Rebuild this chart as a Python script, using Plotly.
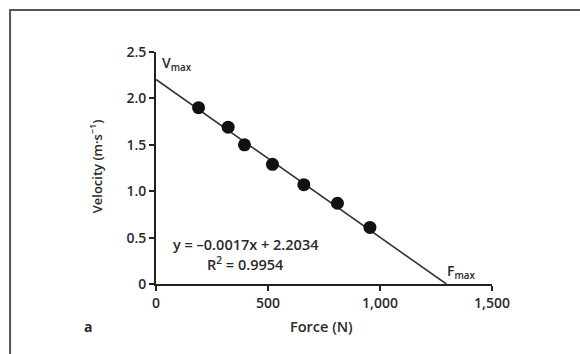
import plotly.graph_objects as go

force = [190, 322, 395, 520, 660, 810, 955]
velocity = [1.90, 1.69, 1.50, 1.29, 1.07, 0.87, 0.61]
slope = -0.0017
intercept = 2.2034
fmax = intercept / -slope
x_tickvals = [0, 500, 1000, 1500]
x_ticktext = ["0", "500", "1,000", "1,500"]
y_tickvals = [0, 0.5, 1.0, 1.5, 2.0, 2.5]
y_ticktext = ["0", "0.5", "1.0", "1.5", "2.0", "2.5"]

FONT = "Open Sans, sans-serif"
INK = "#2a2a2a"
WEIGHT = 600

fig = go.Figure()
fig.add_trace(go.Scatter(x=[0, fmax], y=[intercept, 0], mode="lines",
                         line=dict(color="#333333", width=1.6), hoverinfo="skip"))
fig.add_trace(go.Scatter(x=force, y=velocity, mode="markers",
                         marker=dict(color="#111111", size=13)))

L, R, T, B = 155.7, 87.7, 51.7, 69.5
W, H = 580, 354
pw, ph = W - L - R, H - T - B

def px(x):
    return (x - L) / pw

def py(y):
    return (H - B - y) / ph

ann = [
    dict(x=18, y=2.38, xref="x", yref="y", text="V<sub>max</sub>", xanchor="left", yanchor="middle", font=dict(size=14)),
    dict(x=1290, y=0.14, xref="x", yref="y", text="F<sub>max</sub>", xanchor="left", yanchor="middle", font=dict(size=14)),
    dict(x=402, y=0.425, xref="x", yref="y", text="y = –0.0017x + 2.2034", xanchor="center", yanchor="middle", font=dict(size=14.5)),
    dict(x=400, y=0.225, xref="x", yref="y", text="R<sup>2</sup> = 0.9954", xanchor="center", yanchor="middle", font=dict(size=14.5)),
    dict(x=px(321.5), y=py(327), xref="paper", yref="paper", text="Force (N)", xanchor="center", yanchor="middle", font=dict(size=14.5)),
    dict(x=px(88), y=py(327), xref="paper", yref="paper", text="<b>a</b>", xanchor="center", yanchor="middle", font=dict(size=14)),
    dict(x=px(96), y=py(166), xref="paper", yref="paper", text="Velocity (m·s<sup>−1</sup>)", textangle=-90, xanchor="center", yanchor="middle", font=dict(size=13)),
]
for a in ann:
    a["showarrow"] = False
    a["font"]["family"] = FONT
    a["font"]["color"] = INK
    a["font"]["weight"] = WEIGHT

fig.update_layout(
    width=W, height=H, margin=dict(l=L, r=R, t=T, b=B),
    paper_bgcolor="white", plot_bgcolor="white", showlegend=False,
    font=dict(family=FONT, color=INK, size=13),
    annotations=ann,
    shapes=[dict(type="rect", xref="paper", yref="paper",
                 x0=px(9.5), x1=px(600), y0=py(400), y1=py(9.5),
                 line=dict(color="#555555", width=2), fillcolor="rgba(0,0,0,0)")],
    xaxis=dict(range=[0, 1500], tickvals=x_tickvals, ticktext=x_ticktext,
               showgrid=False, zeroline=False, showline=True, linecolor="#222222", linewidth=1.8,
               ticks="outside", ticklen=5, tickwidth=1.6, tickcolor="#222222",
               tickfont=dict(size=14, color=INK, family=FONT, weight=WEIGHT)),
    yaxis=dict(range=[0, 2.5], tickvals=y_tickvals, ticktext=y_ticktext,
               showgrid=False, zeroline=False, showline=True, linecolor="#222222", linewidth=1.8,
               ticks="outside", ticklen=5, tickwidth=1.6, tickcolor="#222222",
               tickfont=dict(size=14, color=INK, family=FONT, weight=WEIGHT)),
)
fig.write_html("out.html")
